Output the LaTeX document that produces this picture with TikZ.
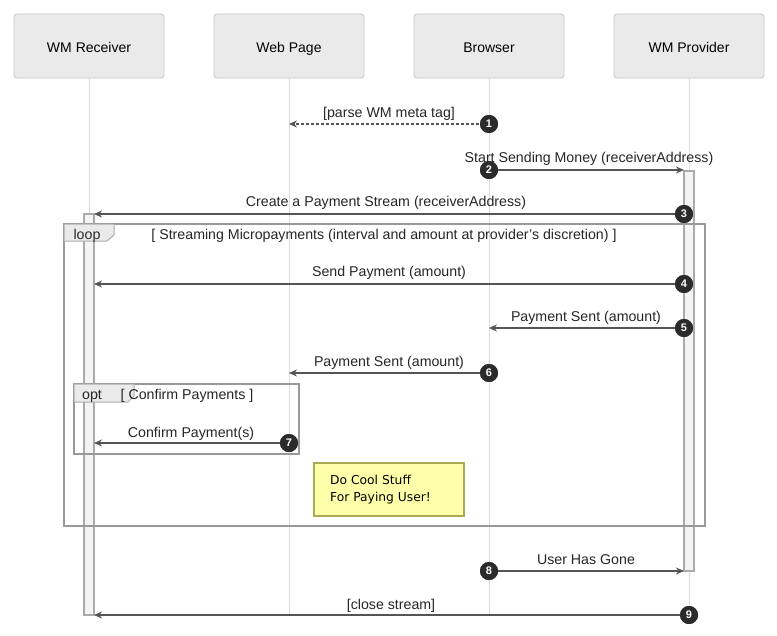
\documentclass[tikz,border=0pt]{standalone}
\usepackage{fontspec}
\setmainfont{Liberation Sans}
\newfontfamily\notefont{DejaVu Sans}
\usetikzlibrary{arrows.meta}
\definecolor{boxfill}{HTML}{EAEAEA}
\definecolor{boxline}{HTML}{C8C8C8}
\definecolor{lifeline}{HTML}{DDDDDD}
\definecolor{msgline}{HTML}{555555}
\definecolor{numfill}{HTML}{2B2B2B}
\definecolor{actfill}{HTML}{F4F4F4}
\definecolor{actline}{HTML}{AAAAAA}
\definecolor{framecol}{HTML}{999999}
\definecolor{notefill}{HTML}{FFFFAA}
\definecolor{noteline}{HTML}{AAAA55}
\tikzset{
  actor/.style={draw=boxline, fill=boxfill, rounded corners=3pt, minimum width=150pt, minimum height=64pt, font=\fontsize{14}{16}\selectfont, line width=0.9pt, text height=12pt, text depth=0pt},
  life/.style={draw=lifeline, line width=1pt},
  act/.style={draw=actline, fill=actfill, line width=1.2pt},
  msg/.style={draw=msgline, line width=1.3pt, -{Stealth[length=8pt,width=7pt]}},
  dmsg/.style={msg, dashed, dash pattern=on 3pt off 2pt},
  num/.style={circle, fill=numfill, text=white, inner sep=0pt, minimum size=18pt, font=\fontsize{11}{13}\bfseries\selectfont},
  lbl/.style={font=\fontsize{14.2}{16}\selectfont, text=black!85, inner sep=0pt, anchor=base},
  frame/.style={draw=framecol, line width=1.2pt},
  tab/.style={draw=framecol!80, fill=boxfill, line width=1pt},
  note/.style={draw=noteline, fill=notefill, line width=1.2pt, minimum width=150pt, minimum height=53pt, inner sep=0pt},
}
\begin{document}
\begin{tikzpicture}[x=1pt,y=-1pt]
\useasboundingbox[fill=white] (0,0) rectangle (777,635);
% actors
\node[actor] (r) at (89,46) {WM Receiver};
\node[actor] (w) at (289,46) {Web Page};
\node[actor] (b) at (489,46) {Browser};
\node[actor] (p) at (689,46) {WM Provider};
\coordinate (rend) at (89,615);
\coordinate (wend) at (289,615);
\coordinate (bend) at (489,615);
\coordinate (pend) at (689,615);
\draw[life] (r.south) -- (rend);
\draw[life] (w.south) -- (wend);
\draw[life] (b.south) -- (bend);
\draw[life] (p.south) -- (pend);
% activations
\draw[act] (684,171) rectangle (694,571);
\draw[act] (84,214) rectangle (94,615);
% loop frame
\draw[frame] (64,224) rectangle (705,526);
\draw[tab] (64,224) -- (114,224) -- (114,235) -- (107,241) -- (64,241) -- cycle;
\node[lbl] at (87,239) {loop};
\node[lbl] at (384,239) {[ Streaming Micropayments (interval and amount at provider's discretion) ]};
% opt frame
\draw[frame] (74,384) rectangle (299,454);
\draw[tab] (74,384) -- (134,384) -- (134,396) -- (128,402) -- (74,402) -- cycle;
\node[lbl] at (92,399) {opt};
\node[lbl] at (187,399) {[ Confirm Payments ]};
% note
\node[note] (n) at (389,489.5) {};
\node[anchor=north west, inner sep=0pt, align=left, font=\notefont\fontsize{12.3}{17}\selectfont] at (330,475) {Do Cool Stuff\\For Paying User!};
% message endpoints
\coordinate (m1e) at (289,124);
\coordinate (m2e) at (684,170);
\coordinate (m3e) at (94,214);
\coordinate (m4e) at (94,284);
\coordinate (m5e) at (489,328);
\coordinate (m6e) at (289,373);
\coordinate (m7e) at (94,443);
\coordinate (m8e) at (684,571);
\coordinate (m9e) at (94,615);
% numbers
\node[num] (n1) at (489,124) {1};
\node[num] (n2) at (489,170) {2};
\node[num] (n3) at (684,214) {3};
\node[num] (n4) at (684,284) {4};
\node[num] (n5) at (684,328) {5};
\node[num] (n6) at (489,373) {6};
\node[num] (n7) at (289,443) {7};
\node[num] (n8) at (489,571) {8};
\node[num] (n9) at (689,615) {9};
% messages
\draw[dmsg] (n1.center) -- (m1e);
\draw[msg] (n2.center) -- (m2e);
\draw[msg] (n3.center) -- (m3e);
\draw[msg] (n4.center) -- (m4e);
\draw[msg] (n5.center) -- (m5e);
\draw[msg] (n6.center) -- (m6e);
\draw[msg] (n7.center) -- (m7e);
\draw[msg] (n8.center) -- (m8e);
\draw[msg] (n9.center) -- (m9e);
% redraw numbers on top
\foreach \k/\x/\y in {1/489/124,2/489/170,3/684/214,4/684/284,5/684/328,6/489/373,7/289/443,8/489/571,9/689/615}
  \node[num] at (\x,\y) {\k};
% labels
\node[lbl] at (389,117) {[parse WM meta tag]};
\node[lbl] at (589,162) {Start Sending Money (receiverAddress)};
\node[lbl] at (386,206) {Create a Payment Stream (receiverAddress)};
\node[lbl] at (389,276) {Send Payment (amount)};
\node[lbl] at (586,321) {Payment Sent (amount)};
\node[lbl] at (389,366) {Payment Sent (amount)};
\node[lbl] at (191,437) {Confirm Payment(s)};
\node[lbl] at (586,564) {User Has Gone};
\node[lbl] at (391,609) {[close stream]};
\end{tikzpicture}
\end{document}
